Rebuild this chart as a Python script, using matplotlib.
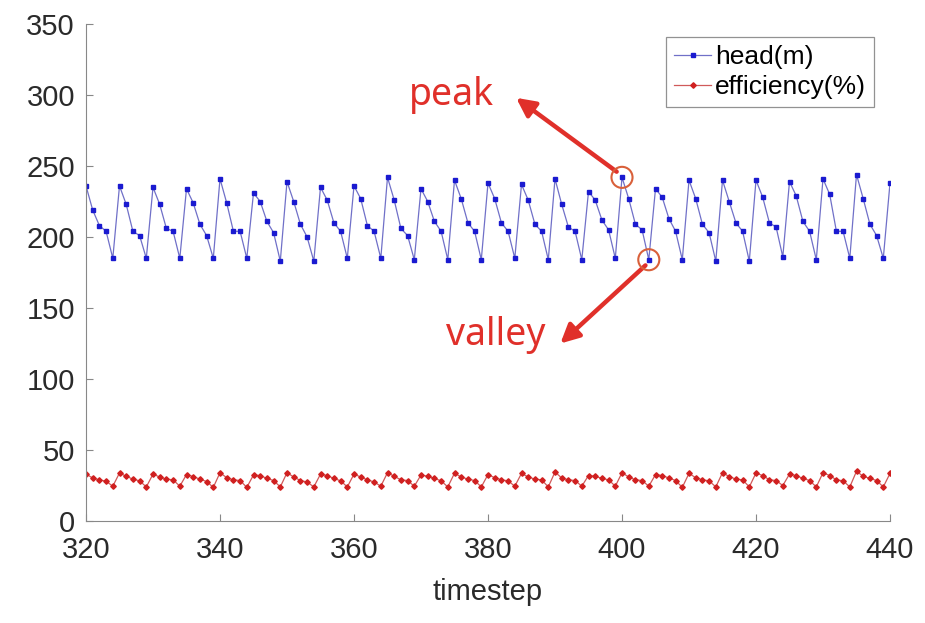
import matplotlib
matplotlib.use("Agg")
import matplotlib.pyplot as plt
import numpy as np

plt.rcParams['font.family'] = ['Liberation Sans', 'DejaVu Sans']

timestep = list(range(320, 441))

head = [236, 219, 208, 204, 185,
        236, 223, 204, 201, 185,
        235, 223, 206, 204, 185,
        234, 224, 209, 201, 185,
        241, 224, 204, 204, 185,
        231, 225, 211, 203, 183,
        239, 225, 209, 200, 183,
        235, 226, 210, 204, 185,
        236, 227, 208, 204, 185,
        242, 226, 206, 201, 184,
        234, 225, 211, 204, 184,
        240, 227, 210, 204, 184,
        238, 227, 210, 204, 185,
        237, 226, 209, 204, 184,
        241, 223, 207, 204, 184,
        232, 226, 212, 205, 185,
        242, 227, 209, 205, 184,
        234, 228, 213, 204, 184,
        240, 227, 209, 203, 183,
        240, 225, 210, 204, 183,
        240, 228, 210, 207, 186,
        239, 229, 211, 204, 184,
        241, 230, 204, 204, 185,
        244, 227, 209, 201, 185,
        238]

efficiency = [33.0, 30.3, 29.0, 28.0, 24.5,
              33.8, 31.5, 29.5, 28.3, 24.0,
              33.0, 31.0, 29.5, 29.0, 24.5,
              32.7, 31.3, 29.5, 27.8, 23.7,
              34.0, 30.5, 29.0, 28.5, 23.7,
              32.4, 32.0, 30.0, 28.5, 24.0,
              34.0, 31.0, 28.5, 27.5, 24.0,
              33.0, 32.0, 30.0, 28.3, 24.0,
              33.0, 31.0, 29.0, 27.5, 24.5,
              34.0, 31.5, 29.0, 28.5, 24.5,
              32.4, 31.5, 30.0, 28.3, 24.0,
              33.6, 31.0, 29.5, 28.5, 24.0,
              32.7, 30.5, 29.0, 28.3, 24.5,
              33.5, 31.0, 29.5, 29.0, 24.0,
              34.5, 30.3, 29.0, 28.5, 24.5,
              32.0, 31.5, 30.0, 29.0, 24.5,
              34.0, 31.0, 29.0, 28.5, 24.5,
              32.7, 32.0, 30.3, 28.5, 23.7,
              33.5, 30.5, 29.0, 28.3, 24.0,
              34.0, 31.3, 29.5, 29.0, 24.0,
              33.8, 32.0, 29.0, 28.5, 25.0,
              33.0, 32.0, 30.0, 28.5, 24.0,
              34.0, 32.0, 29.0, 28.3, 24.0,
              35.0, 31.5, 30.0, 28.5, 24.0,
              33.5]

x_ticks = [320, 340, 360, 380, 400, 420, 440]
y_ticks = [0, 50, 100, 150, 200, 250, 300, 350]

peak_t, valley_t = 400, 404
peak_text, valley_text = "peak", "valley"
peak_text_pos = (374.5, 300)
valley_text_pos = (381.2, 131)

W, H = 925, 623
fig = plt.figure(figsize=(W / 100, H / 100), dpi=100)
ax = fig.add_axes([86 / W, 1 - 521 / H, (890 - 86) / W, (521 - 24) / H])

ax.plot(timestep, head, color="#7070c8", lw=0.9, marker="s", ms=3.2,
        mfc="#1a1ad0", mec="#1a1ad0", label="head(m)")
ax.plot(timestep, efficiency, color="#d05a5a", lw=0.9, marker="D", ms=2.8,
        mfc="#d02020", mec="#d02020", label="efficiency(%)")

ax.set_xlim(320, 440)
ax.set_ylim(0, 350)
ax.set_xticks(x_ticks)
ax.set_yticks(y_ticks)
ax.tick_params(direction="in", labelsize=21, colors="#888888",
               labelcolor="#2a2a2a", length=5)
ax.tick_params(axis="x", pad=11)
ax.tick_params(axis="y", pad=8)
for s in ["top", "right"]:
    ax.spines[s].set_visible(False)
for s in ["left", "bottom"]:
    ax.spines[s].set_color("#888888")
ax.set_xlabel("timestep", fontsize=21, color="#2a2a2a", labelpad=10)

leg = ax.legend(loc="upper right", fontsize=19, frameon=True, fancybox=False,
                edgecolor="#777777", handlelength=1.4, handletextpad=0.15,
                borderpad=0.3, labelspacing=0.25, borderaxespad=0.3,
                bbox_to_anchor=(0.99, 0.99))
leg.get_frame().set_linewidth(0.9)

red = "#e0302a"
pk = head[timestep.index(peak_t)]
vl = head[timestep.index(valley_t)]
ax.scatter([peak_t, valley_t], [pk, vl], s=230, facecolors="none",
           edgecolors="#d9603a", linewidths=1.5, zorder=5)

ax.text(*peak_text_pos, peak_text, color=red, fontsize=27,
        ha="center", va="center", family="Noto Sans")
ax.text(*valley_text_pos, valley_text, color=red, fontsize=27,
        ha="center", va="center", family="Noto Sans")
ax.annotate("", xy=(384.2, 298), xytext=(399.2, 246),
            arrowprops=dict(arrowstyle="-|>", color=red, lw=3.2,
                            mutation_scale=28, shrinkA=0, shrinkB=0))
ax.annotate("", xy=(390.8, 125), xytext=(403.5, 180),
            arrowprops=dict(arrowstyle="-|>", color=red, lw=3.2,
                            mutation_scale=28, shrinkA=0, shrinkB=0))

fig.savefig("out.png", dpi=100, facecolor="white")
